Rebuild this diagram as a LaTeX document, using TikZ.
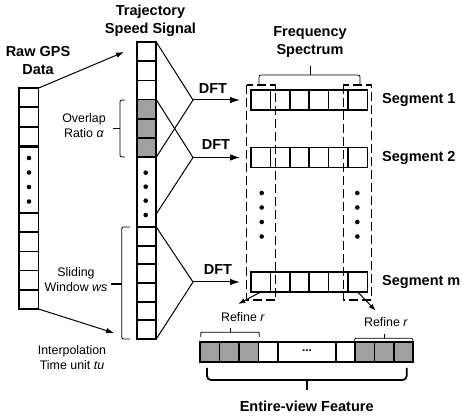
\documentclass[tikz,border=0pt]{standalone}
\usepackage{fontspec}
\setmainfont{Liberation Sans}
\usetikzlibrary{arrows.meta,calc}
\definecolor{cellgray}{RGB}{160,160,160}
\tikzset{
  cell/.style={draw, line width=1.7pt, minimum width=19.5pt, minimum height=19.2pt, inner sep=0pt, outer sep=0pt},
  gcell/.style={cell, fill=cellgray},
  conn/.style={line width=1pt},
  bigarrow/.style={conn, -{Latex[length=10pt,width=6.5pt]}},
  smallarrow/.style={conn, -{Latex[length=7pt,width=5pt]}},
  lab/.style={font=\fontsize{12.4}{15}\selectfont, align=center, inner sep=0pt},
  blab/.style={font=\fontsize{14.5}{18}\selectfont\bfseries, align=center, inner sep=0pt},
  dashedbox/.style={line width=1.2pt, dash pattern=on 9pt off 4pt},
  bracket/.style={line width=0.8pt, rounded corners=2pt},
  bigbracket/.style={line width=1.8pt, rounded corners=4pt},
  dot/.style={circle, fill=black, inner sep=0pt, minimum size=4.6pt},
}
\begin{document}
\begin{tikzpicture}[x=1pt,y=-1pt]
\useasboundingbox (0,0) rectangle (463,419);

% ---------- Left column: Raw GPS ----------
\node[cell] (L1) at (28.75,97.7) {};
\node[cell] (L2) at (28.75,117.1) {};
\node[cell] (L3) at (28.75,136.5) {};
\node[cell, minimum height=66pt] (Ld) at (28.75,180) {};
\foreach \i/\y in {4/222.6,5/241.8,6/261,7/280.2,8/299.4}
  \node[cell] (L\i) at (28.75,\y) {};
\foreach \y [count=\k] in {158,172.5,187,201.5}
  \node[dot] (ld\k) at (29,\y) {};

\node[blab] (rawgps) at (38,61) {Raw GPS\\Data};

% ---------- Middle column: Trajectory speed signal ----------
\foreach \i/\y in {1/51.6,2/70.8,3/90}
  \node[cell] (M\i) at (146.5,\y) {};
\foreach \i/\y in {4/109.2,5/128.4,6/147.6}
  \node[gcell] (M\i) at (146.5,\y) {};
\node[cell, minimum height=69.8pt] (Md) at (146.5,192.1) {};
\foreach \i/\y in {7/236.33,8/255,9/273.67,10/292.33,11/311,12/329.67}
  \node[cell, minimum height=18.67pt] (M\i) at (146.5,\y) {};
\foreach \y [count=\k] in {172.7,186.7,200.7,215}
  \node[dot] (md\k) at (145.7,\y) {};

\node[blab] (traj) at (150.5,20.5) {Trajectory\\Speed Signal};

% Raw GPS -> interpolation arrows
\coordinate (G1) at (124,52);
\coordinate (G2) at (114,333);
\draw[conn, -{Latex[length=8pt,width=5.5pt]}] (L1.north east) -- (G1);
\draw[conn, -{Latex[length=8pt,width=5.5pt]}] (L8.south east) -- (G2);

\node[lab] (interp) at (72,357.5) {Interpolation\\Time unit \textit{tu}};

% Brackets on middle column
\draw[bracket] (125,100) -- (120,100) -- (120,157) -- (125,157);
\draw[bracket] (120,128.5) -- (113,128.5);
\node[lab] (overlap) at (84,126) {Overlap\\Ratio \textit{α}};
\draw[bracket] (130,227) -- (121.7,227) -- (121.7,339) -- (130,339);
\coordinate (sw) at (111,284);
\draw[line width=1.3pt] (121.7,284) -- (sw);
\node[lab] (sliding) at (76,280) {Sliding\\Window \textit{ws}};

% ---------- DFT connectors ----------
\coordinate (D1) at (193,100);
\coordinate (D2) at (193,157.5);
\coordinate (D3) at (193,282);
\coordinate (W2) at (156.25,214);
\coordinate (A1) at (240,100);
\coordinate (A2) at (240,157.5);
\coordinate (A3) at (240,282);
\draw[conn] (M1.north east) -- (D1) -- (M6.south east);
\draw[conn] (M4.north east) -- (D2) -- (W2);
\draw[conn] (M7.north east) -- (D3) -- (M12.south east);
\draw[bigarrow] (D1) -- (A1);
\draw[bigarrow] (D2) -- (A2);
\draw[bigarrow] (D3) -- (A3);
\node[blab] (dft1) at (213,88.5) {DFT};
\node[blab] (dft2) at (216,145) {DFT};
\node[blab] (dft3) at (218,269.5) {DFT};

% ---------- Frequency spectrum rows ----------
\foreach \r/\y in {1/100,2/157.5,m/282}{
  \foreach \c/\x in {1/260.7,2/280.1,3/299.5,4/318.9,5/338.3,6/357.7}
    \node[cell, minimum width=19.4pt, minimum height=20pt] (S\r\c) at (\x,\y) {};
}
\node[blab, anchor=west] (seg1) at (382,100) {Segment 1};
\node[blab, anchor=west] (seg2) at (382,157.5) {Segment 2};
\node[blab, anchor=west] (segm) at (382,282) {Segment m};

\foreach \y [count=\k] in {193,207.5,222,236.5}{
  \node[dot] (rdl\k) at (261.7,\y) {};
  \node[dot] (rdr\k) at (357.3,\y) {};
}

% dashed selection boxes
\draw[dashedbox] (246.7,85) rectangle (275.3,300);
\draw[dashedbox] (343.3,85) rectangle (371.7,300);

% Frequency spectrum bracket
\draw[bracket] (259,85) -- (259,75) -- (360,75) -- (360,85);
\draw[bracket] (310,75) -- (310,66);
\node[blab] (freq) at (310,42.5) {Frequency\\Spectrum};

% ---------- Refine arrows ----------
\coordinate (R1) at (238.3,304);
\coordinate (R2) at (375.7,310.7);
\draw[smallarrow] (Sm1.south) -- (R1);
\draw[smallarrow] (Sm6.south) -- (R2);
\node[lab] (ref1) at (243,317) {Refine \textit{r}};
\node[lab] (ref2) at (386,322.5) {Refine \textit{r}};
\draw[bracket, rounded corners=1pt] (200.7,337) -- (200.7,332.3) -- (259.3,332.3) -- (259.3,337);
\draw[bracket] (230,332.3) -- (230,328.3);
\draw[bracket, rounded corners=1pt] (354.7,342) -- (354.7,338.3) -- (412.7,338.3) -- (412.7,342);
\draw[bracket] (384,338.3) -- (384,333.8);

% ---------- Entire-view feature bar ----------
\foreach \i/\x in {1/209.75,2/229.25,3/248.75}
  \node[gcell, minimum height=20pt] (F\i) at (\x,352) {};
\node[cell, minimum height=20pt] (F4) at (268.25,352) {};
\node[cell, minimum height=20pt, minimum width=58pt] (F5) at (307,352) {\raisebox{2pt}{\bfseries\fontsize{12}{12}\selectfont ...}};
\node[cell, minimum height=20pt, minimum width=19.25pt] (F6) at (345.6,352) {};
\foreach \i/\x in {7/364.9,8/384.1,9/403.4}
  \node[gcell, minimum height=20pt, minimum width=19.25pt] (F\i) at (\x,352) {};

\draw[bigbracket] (406.7,368) -- (406.7,380) -- (207,380) -- (207,368);
\draw[bigbracket] (306.7,380) -- (306.7,390);
\node[blab] (entire) at (306.7,406.5) {Entire-view Feature};

\end{tikzpicture}
\end{document}
